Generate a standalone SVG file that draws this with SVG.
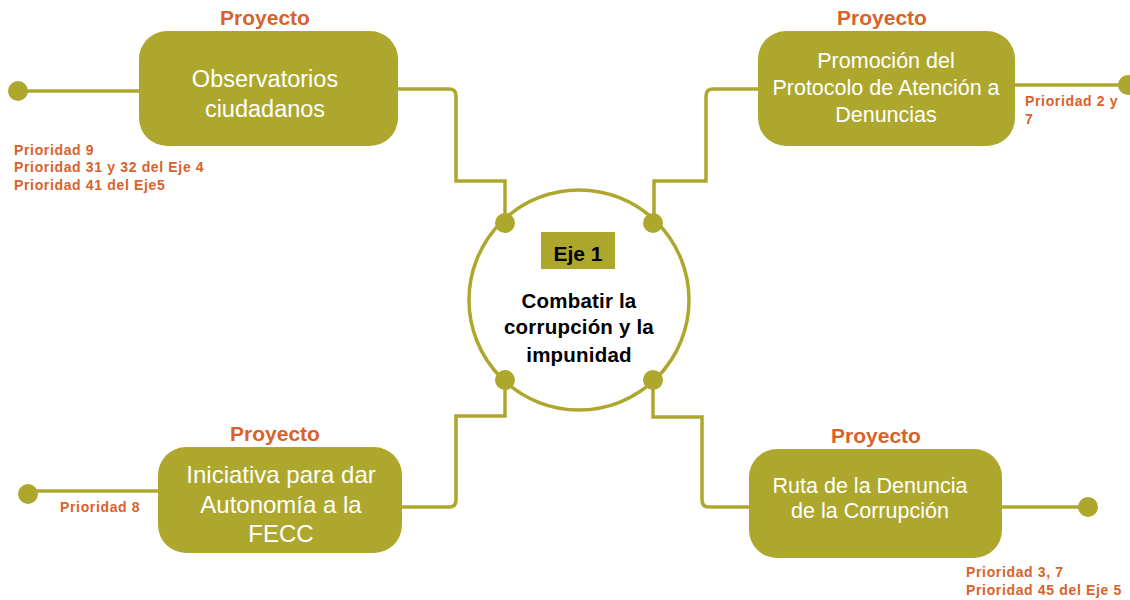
<svg xmlns="http://www.w3.org/2000/svg" width="1130" height="600" viewBox="0 0 1130 600">
<style>
.box{fill:#ADA82D}
.bt{fill:#fff;font-family:"Liberation Sans",Arial,sans-serif;text-anchor:middle}
.pr{fill:#D9622B;font-family:"Liberation Sans",Arial,sans-serif;font-weight:bold;font-size:21px;text-anchor:middle}
.pri{fill:#D9622B;font-family:"Liberation Sans",Arial,sans-serif;font-weight:bold;font-size:14px;letter-spacing:0.65px}
.ln{fill:none;stroke:#ADA82D;stroke-width:3.5}
.dot{fill:#ADA82D}
.ct{fill:#000;font-family:"Liberation Sans",Arial,sans-serif;font-weight:bold;font-size:20.5px;letter-spacing:0.2px;text-anchor:middle}
</style>
<rect width="1130" height="600" fill="#fff"/>
<g id="connectors">
<path class="ln" d="M18,91 H139"/>
<path class="ln" d="M398,89 H449 Q456,89 456,96 V181 H505 V223"/>
<path class="ln" d="M1015,85 H1128"/>
<path class="ln" d="M758,89 H713 Q706,89 706,96 V181 H654 V223"/>
<path class="ln" d="M28,491 H158"/>
<path class="ln" d="M402,507 H449 Q456,507 456,500 V416 H505 V380"/>
<path class="ln" d="M653,380 V417 H702 V500 Q702,507 709,507 H749"/>
<path class="ln" d="M1002,507 H1088"/>
<circle class="dot" cx="18" cy="91" r="10"/>
<circle class="dot" cx="1128" cy="85" r="10"/>
<circle class="dot" cx="28" cy="494" r="10"/>
<circle class="dot" cx="1088" cy="507" r="10"/>
</g>
<g id="center">
<circle cx="579" cy="300" r="110" fill="#fff" stroke="#ADA82D" stroke-width="3.5"/>
<circle class="dot" cx="505" cy="223" r="10"/>
<circle class="dot" cx="653" cy="223" r="10"/>
<circle class="dot" cx="505" cy="380" r="10"/>
<circle class="dot" cx="653" cy="380" r="10"/>
<rect x="541" y="232" width="74" height="37" fill="#ADA82D"/>
<text class="ct" x="578" y="261" style="font-size:21px;letter-spacing:0">Eje 1</text>
<text class="ct" x="579" y="308">Combatir la</text>
<text class="ct" x="579" y="334">corrupción y la</text>
<text class="ct" x="579" y="362">impunidad</text>
</g>
<g id="node-observatorios">
<text class="pr" x="265" y="25">Proyecto</text>
<rect class="box" x="139" y="31" width="259" height="115" rx="28"/>
<text class="bt" x="265" y="87" font-size="23.5">Observatorios</text>
<text class="bt" x="265" y="117" font-size="23.5">ciudadanos</text>
<text class="pri" x="14" y="155">Prioridad 9</text>
<text class="pri" x="14" y="172">Prioridad 31 y 32 del Eje 4</text>
<text class="pri" x="14" y="190">Prioridad 41 del Eje5</text>
</g>
<g id="node-protocolo">
<text class="pr" x="882" y="25">Proyecto</text>
<rect class="box" x="758" y="31" width="257" height="115" rx="28"/>
<text class="bt" x="886" y="68" font-size="21.5">Promoción del</text>
<text class="bt" x="886" y="95" font-size="21.5">Protocolo de Atención a</text>
<text class="bt" x="886" y="122" font-size="21.5">Denuncias</text>
<text class="pri" x="1025" y="106">Prioridad 2 y</text>
<text class="pri" x="1025" y="124">7</text>
</g>
<g id="node-iniciativa">
<text class="pr" x="275" y="441">Proyecto</text>
<rect class="box" x="158" y="447" width="244" height="106" rx="28"/>
<text class="bt" x="281" y="483" font-size="24">Iniciativa para dar</text>
<text class="bt" x="281" y="513" font-size="24">Autonomía a la</text>
<text class="bt" x="281" y="542" font-size="24">FECC</text>
<text class="pri" x="60" y="512">Prioridad 8</text>
</g>
<g id="node-ruta">
<text class="pr" x="876" y="443">Proyecto</text>
<rect class="box" x="749" y="449" width="253" height="109" rx="28"/>
<text class="bt" x="870" y="493" font-size="21.5">Ruta de la Denuncia</text>
<text class="bt" x="870" y="518" font-size="21.5">de la Corrupción</text>
<text class="pri" x="966" y="577">Prioridad 3, 7</text>
<text class="pri" x="966" y="595">Prioridad 45 del Eje 5</text>
</g>
</svg>
